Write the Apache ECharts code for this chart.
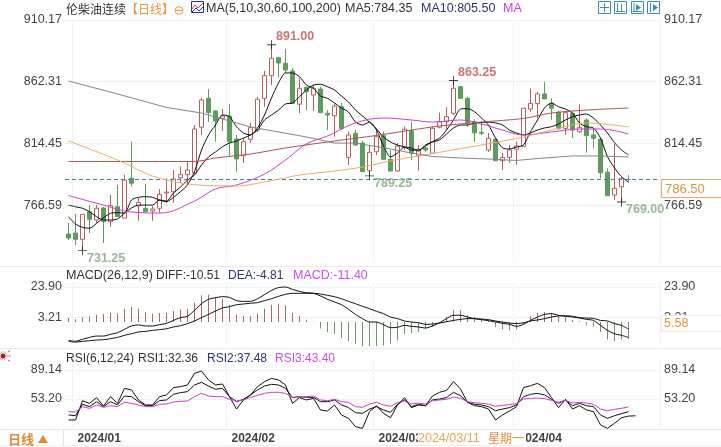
<!DOCTYPE html>
<html><head><meta charset="utf-8">
<script src="https://cdn.jsdelivr.net/npm/echarts@6/dist/echarts.min.js"></script>
<style>html,body{margin:0;padding:0;background:#fff}#c{width:721px;height:447px}</style>
</head><body><div id="c"></div>
<script>
const dates = ['2023/12/29','2024/01/02','2024/01/03','2024/01/04','2024/01/05','2024/01/08','2024/01/09','2024/01/10','2024/01/11','2024/01/12','2024/01/15','2024/01/16','2024/01/17','2024/01/18','2024/01/19','2024/01/22','2024/01/23','2024/01/24','2024/01/25','2024/01/26','2024/01/29','2024/01/30','2024/01/31',
'2024/02/01','2024/02/02','2024/02/05','2024/02/06','2024/02/07','2024/02/08','2024/02/09','2024/02/12','2024/02/13','2024/02/14','2024/02/15','2024/02/16','2024/02/19','2024/02/20','2024/02/21','2024/02/22','2024/02/23','2024/02/26','2024/02/27','2024/02/28','2024/02/29',
'2024/03/01','2024/03/04','2024/03/05','2024/03/06','2024/03/07','2024/03/08','2024/03/11','2024/03/12','2024/03/13','2024/03/14','2024/03/15','2024/03/18','2024/03/19','2024/03/20','2024/03/21','2024/03/22','2024/03/25','2024/03/26','2024/03/27','2024/03/28',
'2024/04/01','2024/04/02','2024/04/03','2024/04/04','2024/04/05','2024/04/08','2024/04/09','2024/04/10','2024/04/11','2024/04/12','2024/04/15','2024/04/16','2024/04/17','2024/04/18','2024/04/19','2024/04/22','2024/04/23'];
const emptySlots = ['2024/04/24','2024/04/25','2024/04/26','2024/04/29'];
const monthStarts = ['2024/01/02','2024/02/01','2024/03/01','2024/04/01'];

// open, close, low, high
const ohlc = [
[744.1,741,739.5,752.7],[744.9,740,735.6,759.7],[740,759.4,731.25,759.7],[761.4,755.5,744.9,766.6],[755,764.1,752.7,766.6],
[764.3,753.7,737.2,765.1],[753.7,766.1,749.8,774.4],[765.3,757.6,757.3,782.2],[756.5,786,756.5,789.9],[787.4,783.5,780.8,815.8],
[765.9,768.7,754.5,772.1],[764.1,761.4,761.2,782.9],[762,763.5,754.5,765.9],[764.1,774.9,760.7,779.1],[776,776.7,768.2,787.4],
[776.9,786.8,768.4,793.8],[787.8,790.2,783.7,796.4],[790.2,793.8,782.2,800.2],[791.5,825.6,791,828.7],[827,848.1,821,849.7],
[849.4,838.3,831,856.6],[839.6,831.8,815.8,840.3],[833.9,835.7,824.1,841.1],[835.7,815.8,804.1,845],[817.9,802.3,792.5,821],
[804.9,815.8,799.2,818.6],[817.6,826.6,814.7,830.3],[824.8,848.7,823.3,850.4],[849.4,867,842.9,870.6],[867,880.5,859.7,891],
[880.9,876.8,865.4,881.7],[876.6,871.4,868.8,887.7],[870.6,845.5,845.5,872.9],[844.8,857.2,838,864.9],[858,854.5,840.3,858.4],
[852,857.2,839.6,859.7],[856.6,838.3,838,858.4],[837.8,836.5,824.8,840.3],[835.9,843.4,819.6,845.5],[842.9,826.1,824.8,845.8],
[803.6,821,797.7,823.5],[822.3,813.2,812.4,824.8],[814.7,792.5,792.3,816.3],[793.3,807.5,789.25,813.2],[808,819.6,805.4,825.6],
[820.4,802.1,801.6,823.5],[802.1,793,792.8,809.3],[793,812.4,792.5,814.7],[811.4,825.4,809.3,827.4],[824.3,806.8,801.6,831.3],
[804.7,809.9,793.3,813.2],[810.9,809.3,807.8,811.7],[806.8,826.1,806.8,827.4],[827,831.3,826.1,838.3],[831.3,835.2,825.4,842.4],
[837.8,857.2,836.5,863.25],[858.4,849.4,849.4,859],[849.4,830.5,827.4,850.7],[831.3,822.7,815.8,833.1],[823,822.3,821,831.3],
[809.3,818.4,807.8,822.5],[817.6,801,800.8,818.6],[801,803.6,793.8,807],[803.6,809.3,799.2,813.2],[809.9,812.4,797.7,815.8],
[811.9,841.7,811.9,841.9],[841.1,845.5,839,857.2],[845.5,852.8,834.1,854.5],[852.8,848.9,848.9,862.3],[845.5,841.7,832.6,849.4],
[838.6,826.1,824.8,839.8],[826.1,838.3,821,839],[837.8,824.8,818.6,839],[823.5,826.9,822.5,844.8],[832.6,820.4,807.2,833.9],
[821,818.4,810.6,826.1],[817.6,791.7,787.4,818.4],[792,773.9,773.9,795.1],[774.4,779.6,770.5,814],[780.8,787.4,769,788.1],
[786.5,786.5,784,790]];

const ma5 = [757.6,751.9,749.3,748.6,752.4,756.8,760.2,760.7,760.4,770.5,772.6,773.1,772.6,770.5,769.2,772.6,777,782.2,792.5,809.3,820.9,828.7,836.5,835.2,827.4,822.5,821,826.4,836.5,849.7,861.3,869.1,869.1,866.2,859.7,857.2,851.2,849.4,845.8,841.9,838.8,
831,828.7,831,824.8,812.4,803.9,807,811.6,810.9,808.5,813.2,815.8,818.6,824.8,832.6,841.1,841.4,839,834.1,828.7,818.6,810.9,810.1,811.6,813.2,823.5,832.6,841.9,845.8,842.9,841.1,838,830.3,827.4,826.4,818.6,804.1,795.4,788.6,784.35];
const ma10 = [766.6,765.3,764.1,761.4,757.6,755,755,755.8,760.4,764.3,766.6,766.6,766.6,770.5,769.7,776,780.6,786,789.9,797.7,803.9,807.8,811.9,814.7,816.3,818.6,821,824.8,832.6,836.5,840.3,845,845.8,850.7,855.9,859.7,860.3,858.4,855.9,851.2,846.5,
840.3,835.7,831,825.6,819.4,815.5,813.2,811.6,809.3,809.3,812.4,815.5,817.1,821.7,826.4,828.7,828.7,830.3,830.7,831,830.3,828.7,824.8,822.5,821,822.5,824.8,826.4,827.4,829.5,832.6,835.2,836.5,837.2,834.1,828.7,822.5,815,809.3,805.5];
// slow averages: [candle number, value] read where the curve could be seen clearly
const ma30 = [[0,774],[5,766.6],[9,761.2],[13,760.4],[18,769.7],[21,779.1],[24,782.2],[28,790.7],[31,801.6],[34,814],[37,820.2],[41,830.3],[45,834.1],[49,832.6],[52,831],[56,832.6],[59,829.5],[62,824.8],[65,821],[69,823.3],[73,825.6],[76,825.6],[80,821.7]];
const ma60 = [[0,800.4],[8,800.4],[18,800.4],[21,803.1],[26,806.2],[31,810.9],[38,816.3],[44,820.6],[49,824.8],[53,827.9],[59,831],[65,833.8],[69,838],[74,840.3],[80,841.9]];
const ma100 = [[0,816.3],[7,801.6],[12,789.1],[17,782.9],[24,781.4],[29,785.6],[33,789.9],[38,793],[42,796.1],[46,800.8],[50,804.7],[54,808.5],[59,813.2],[65,819.4],[69,824.8],[74,830.3],[80,827.2]];
const ma200 = [[0,862.8],[7,852.8],[14,842.3],[19,838],[26,827.2],[34,819.4],[38,814.7],[41,814.7],[46,810.1],[49,807],[52,804.3],[56,803.1],[60,802.3],[64,801.2],[67,802.7],[72,804.7],[76,804.7],[80,803.9]];

const extremeHigh = [[29,891],[55,863.25]];
const extremeLow = [[2,731.25],[43,789.25],[79,769]];
const lastPrice = 786.5;

const macdBars = [2.7,1.8,3.2,3.9,5,5.5,6.4,5.9,9.1,10.2,9.1,6.8,5.7,6.1,6.4,7.5,8.7,9.1,13.2,18.2,18.7,17.1,15.9,11.4,5,4.1,3.9,5.7,9.1,11.8,12.5,11.4,6.4,4.1,1.6,0.2,-4.5,-6.8,-8,-11,-13,
-14.8,-16.6,-16.6,-16.6,-15.9,-14.8,-12.5,-8,-7.5,-6.8,-4.6,-3.4,-0.5,3.4,8,8,4.6,3.4,2.3,1.1,-3.4,-5.2,-5.7,-5.2,-1.6,3.9,6.2,6.8,6.2,3.9,3.4,1.6,0.5,-2.3,-3,-6.8,-12,-13,-12,-11.4];
const diff = [-12.5,-13.2,-11.8,-10.5,-9.6,-9.6,-8.4,-7.3,-5,-2.7,-2,-2.7,-2.7,-1.8,-0.9,1.1,3,3.9,8,12.5,15.5,16.6,17.3,16.8,14.6,14.1,14.1,15.9,18.7,21.6,23.5,23.9,22.3,20.9,20,19.6,17.8,15.5,13.7,11.8,8.7,
5.2,2.3,0,0,-1.8,-3.9,-3.6,-2.3,-3,-3.4,-4.1,-2.7,-0.5,2.3,4.6,4.6,3.4,2.3,1.6,0.9,0,-0.9,-1.6,-3,-1.6,1.1,3.4,5.2,5.7,4.6,3.9,3.4,2.7,1.8,1.1,-2.3,-5.7,-8,-9.1,-10.51];
const dea = [-13.2,-13.7,-13.2,-12.8,-12.3,-12.1,-11.4,-10.5,-9.1,-8,-6.8,-6.4,-5.7,-5.2,-4.6,-3.4,-2.5,-1.1,0.7,3,5.2,7.5,9.6,10.5,11.8,12.3,12.8,13.2,14.6,15.9,17.5,18.9,19.6,19.6,19.6,19.6,19.1,18.2,17.3,15.9,14.1,
12.5,10.7,9.1,7.3,5.7,3.4,2.3,0.7,0,-0.5,-1.6,-1.4,-0.7,0.2,1.1,1.8,2.3,2.3,2,1.6,0.7,0,-0.7,-1.1,-0.5,0.7,1.4,2.3,3.4,4.1,4.3,3.9,3,2.7,2.5,1.1,0.7,-1.1,-2.3,-4.81];

const rsi1 = [27.2,27.2,51.1,47.8,54.9,44.5,56.1,47.8,66.4,64.4,52,45.8,45.8,56.1,58.2,67.3,68.5,70.6,85,87.9,76.8,70.6,71.8,56.1,40.8,52,58.2,68.5,74.7,78.8,76.8,70.6,47.8,54.9,52,54,39.6,38.3,45.8,33.4,29.2,
18.9,16.8,37.5,44.9,35.4,30,45.8,54.9,42.5,45.8,44.9,56.9,61.5,63.9,74.7,65.6,49.1,44.9,43.7,40.8,27.2,33.4,38.3,43.7,67.3,69.7,72.6,67.3,54.9,42.5,52.8,40.8,44.9,39.6,37.5,21,16.8,23,30,32,32.36];
const rsi2 = [33.4,32.5,46.6,43.7,49.9,43.7,49.9,45.8,56.9,56.1,49.9,44.9,44.9,51.1,52,59,61.1,62.3,70.6,73.9,69.3,65.2,66.4,56.1,49.9,52.8,58.2,64.4,69.3,71.4,70.6,66.4,54.9,56.1,55.3,55.3,49.9,49.9,52,45.8,42.5,
36.3,35.4,40.8,43.7,39.6,36.7,46.6,52,43.7,46.6,44.9,52,53.2,54.9,61.5,57.3,49.1,46.6,45.8,43.7,38.7,40.8,42.5,45.8,56.1,59,60.2,58.2,52.8,47.8,52,44.9,47.8,44.9,43.7,33.4,29.2,32.5,35,37.48];
const rsi3 = [37.5,37.1,43.7,41.6,45.8,42.9,44.9,43.7,49.1,47.8,45.8,43.7,43.7,46.6,47,49.5,50.3,50.7,56.1,60.2,56.9,56.1,56.1,52.8,50.7,52,55.3,57.7,60.2,61.5,61.5,60.2,55.3,56.1,56.1,56.9,52,51.1,52.8,49.9,49.1,
43.7,42.9,47,49.1,45.8,44.1,48.7,50.7,47,48.2,47,51.1,52,52.8,55.7,54,49.9,48.7,47.8,47,44.1,45.3,46.2,47.4,53.2,54,54.4,53.6,51.5,49.1,51.5,48.2,49.1,48.2,46.6,40.8,38.7,40.4,41.6,43.4];

const priceTicks = [766.59,814.45,862.31,910.17];
const macdTicks = [3.21,23.90];
const rsiTicks = [53.20,89.14];

const FONT = '"Liberation Sans", Arial, sans-serif';
const CJK = '"Noto Sans CJK SC", sans-serif';
const RED = '#b4605f', GREEN = '#5f9a5f';
const cats = dates.concat(emptySlots);

function yPair(gridIndex, min, max, ticks, padTop) {
  const base = (pos, margin) => ({
    type:'value', gridIndex, position:pos, min, max, scale:true,
    axisLine:{show:false},
    axisTick:{show:false, customValues:ticks},
    axisLabel:{customValues:ticks, color:'#444', fontFamily:FONT, fontSize:12.5, margin, padding:[padTop,0,0,0], formatter:v=>v.toFixed(2)},
    splitLine:{show:false}
  });
  return [Object.assign(base('left',3),{
    splitLine:{show:true, lineStyle:{color:'#e4e4e4', type:'dotted', width:1}}
  }), base('right',4)];
}
const monthFn = (i,v) => monthStarts.includes(v);
function xAxis(gridIndex, showLabel) {
  return {
    type:'category', gridIndex, data:cats, boundaryGap:true,
    axisLine:{show:false}, axisTick:{show:false},
    splitLine:{show:true, interval:monthFn, lineStyle:{color:'#e8e8e8', type:'dotted'}},
    axisLabel:{show:showLabel, interval:monthFn, align:'left', margin:4, padding:[0,0,0,2], color:'#444', fontFamily:FONT, fontWeight:'bold', fontSize:12,
      formatter:v=>v.slice(0,7), hideOverlap:false}
  };
}
const lineS = (name,data,color,xi,yi,smooth) => ({
  name, type:'line', data, xAxisIndex:xi, yAxisIndex:yi, showSymbol:false, symbol:'none', smooth:smooth||false,
  lineStyle:{color,width:1}, itemStyle:{color}, z:5, silent:true, animation:false
});
const extremeSeries = (list,color,dy,weight) => ({
  type:'scatter', xAxisIndex:0, yAxisIndex:0, z:7, symbol:'path://M0 4.5H10V5.5H0Z M4.5 0H5.5V10H4.5Z', symbolSize:9,
  itemStyle:{color:'#111'},
  data:list,
  label:{show:true, position:'right', distance:0, offset:[0,dy], color, fontFamily:FONT, fontSize:12.5, fontWeight:weight,
    formatter:p=>p.value[1].toFixed(2)}
});

const txt = (x,y,text,fill,extra) => ({type:'text', x, y, z:50, style:Object.assign({text, fill, font:'12.5px '+FONT, textVerticalAlign:'middle'},extra||{})});
const ln = (x1,y1,x2,y2,stroke,w) => ({type:'line', z:49, shape:{x1,y1,x2,y2}, style:{stroke, lineWidth:w||1}});
const box = (x,y,w,h,stroke,fill) => ({type:'rect', z:49, shape:{x,y,width:w,height:h}, style:{stroke, fill:fill||'#fff', lineWidth:1}});

const BLUE = '#3f8fb5';
const graphics = [
  ln(0,266.5,721,266.5,'#e9e9e9'), ln(0,348.5,721,348.5,'#e9e9e9'), ln(0,429.5,721,429.5,'#e6e6e6'), ln(0,445.5,721,445.5,'#efefef'),
  ln(63.5,430,63.5,446,'#e2e2e2'),
  txt(66,9,'伦柴油连续','#333',{font:'12px '+CJK}),
  txt(126,9,'【日线】','#e39a45',{font:'12px '+CJK}),
  {type:'circle', z:50, shape:{cx:179,cy:10.5,r:3.8}, style:{stroke:'#e39a45',fill:'none',lineWidth:1}},
  ln(176,10.5,182,10.5,'#e39a45'),
  box(191.5,1.5,12,11,'#2c3570','#fff'),
  {type:'polyline', z:50, shape:{points:[[192,9],[195,5],[198,8],[203,3]]}, style:{stroke:'#c04060',fill:'none',lineWidth:1}},
  {type:'polyline', z:50, shape:{points:[[192,12],[196,8],[199,11],[203,7]]}, style:{stroke:'#2c3570',fill:'none',lineWidth:1}},
  txt(206,9,'MA(5,10,30,60,100,200)','#333'),
  txt(345,9,'MA5:784.35','#333'),
  txt(421,9,'MA10:805.50','#2c3570'),
  txt(503,9,'MA','#d040d0'),
  box(598.5,1.5,12,12,BLUE), ln(604.5,3,604.5,12,BLUE), ln(600,7.5,609,7.5,BLUE),
  box(614.5,1.5,12,12,BLUE), ln(617.5,3,617.5,11,BLUE), ln(621.5,4,621.5,11,BLUE), ln(616,11.5,625,11.5,BLUE),
  box(631.5,1.5,12,12,BLUE), ln(634,3,634,11.5,BLUE), ln(633,11.5,642,11.5,BLUE),
  {type:'polygon', z:50, shape:{points:[[636,4],[641,7.5],[636,11]]}, style:{fill:BLUE}},
  box(647.5,1.5,12,12,BLUE), ln(650.5,3,650.5,12,BLUE),
  {type:'polygon', z:50, shape:{points:[[653,4],[658,7.5],[653,11]]}, style:{fill:BLUE}},
  box(661.5,179.5,61,18,'#e5a867'),
  txt(665,189,'786.50','#e0953f',{font:'13px '+FONT}),
  box(661.5,315.5,61,16,'#ececec'),
  txt(664,323.5,'5.58','#e0953f'),
  txt(66,276,'MACD(26,12,9)','#333'),
  txt(156,276,'DIFF:-10.51','#333',{font:'12px '+FONT}),
  txt(228,276,'DEA:-4.81','#2c3570',{font:'12px '+FONT}),
  txt(293,276,'MACD:-11.40','#c850e0'),
  txt(66,359,'RSI(6,12,24)','#333',{font:'12px '+FONT}),
  txt(138,359,'RSI1:32.36','#333',{font:'12px '+FONT}),
  txt(207,359,'RSI2:37.48','#2c3570',{font:'12px '+FONT}),
  txt(275,359,'RSI3:43.40','#c850e0',{font:'12px '+FONT}),
  {type:'circle', z:50, shape:{cx:3,cy:356,r:2.5}, style:{fill:'#a01f30'}},
  {type:'circle', z:50, shape:{cx:3,cy:356,r:4}, style:{stroke:'#c05060',fill:'none',lineWidth:1,lineDash:[1,1]}},
  ln(8,352,10,350.5,'#c05060'), ln(8,360,10,361.5,'#c05060'), ln(8.5,356,10.5,356,'#c05060'),
  txt(8,439,'日线','#e0893a',{font:'bold 13px '+CJK}),
  {type:'polygon', z:50, shape:{points:[[38,443],[43,435],[48,443]]}, style:{fill:'#e0893a'}},
  {type:'rect', z:49, shape:{x:418,y:431,width:108,height:14}, style:{fill:'#fff'}},
  txt(418,438.5,'2024/03/11','#e6a55e'),
  txt(488,438.5,'星期一','#e09040',{font:'12px '+CJK})
];

const main = echarts.init(document.getElementById('c'), null, {renderer:'canvas'});
main.setOption({
  animation:false, backgroundColor:'#fff',
  grid:[
    {left:65, width:595, top:20, height:242},
    {left:65, width:595, top:283, height:64},
    {left:65, width:595, top:360, height:69}
  ],
  xAxis:[xAxis(0,false), xAxis(1,false), xAxis(2,true)],
  yAxis:[
    ...yPair(0,722.43,910.17,priceTicks,2),
    ...yPair(1,-17.07,26.64,macdTicks,5),
    ...yPair(2,16,101.56,rsiTicks,5)
  ],
  series:[
    {type:'candlestick', xAxisIndex:0, yAxisIndex:0, barWidth:5, z:2,
      data:ohlc.map((d,i)=> i===ohlc.length-1 ? {value:d, itemStyle:{borderColor:'#6f9fa6', borderColor0:'#6f9fa6', borderColorDoji:'#6f9fa6'}} : d),
      itemStyle:{color:'#fff', color0:GREEN, borderColor:RED, borderColor0:GREEN, borderWidth:1},
      markLine:{silent:true, symbol:'none', label:{show:false}, lineStyle:{color:'#4a7f99', type:[4,3], width:1}, data:[{yAxis:lastPrice}], animation:false}
    },
    lineS('MA5',ma5,'#111',0,0,0.25),
    lineS('MA10',ma10,'#111',0,0,0.25),
    lineS('MA30',ma30,'#c93fc9',0,0,0.4),
    lineS('MA60',ma60,'#a85555',0,0,0.3),
    lineS('MA100',ma100,'#e9ae6c',0,0,0.3),
    lineS('MA200',ma200,'#858585',0,0),
    extremeSeries(extremeHigh,'#c0504f',-8,'bold'),
    extremeSeries(extremeLow,'#7ea67e',8,'bold'),
    {type:'bar', xAxisIndex:1, yAxisIndex:2, barWidth:1, z:2, data:macdBars.map(v=>({value:v, itemStyle:{color:v>=0?'#a96a6a':'#6f946f'}}))},
    lineS('DIFF',diff,'#111',1,2,0.25),
    lineS('DEA',dea,'#111',1,2,0.25),
    lineS('RSI1',rsi1,'#111',2,4),
    lineS('RSI2',rsi2,'#111',2,4),
    lineS('RSI3',rsi3,'#c53fc5',2,4)
  ],
  graphic:graphics
});
</script></body></html>
